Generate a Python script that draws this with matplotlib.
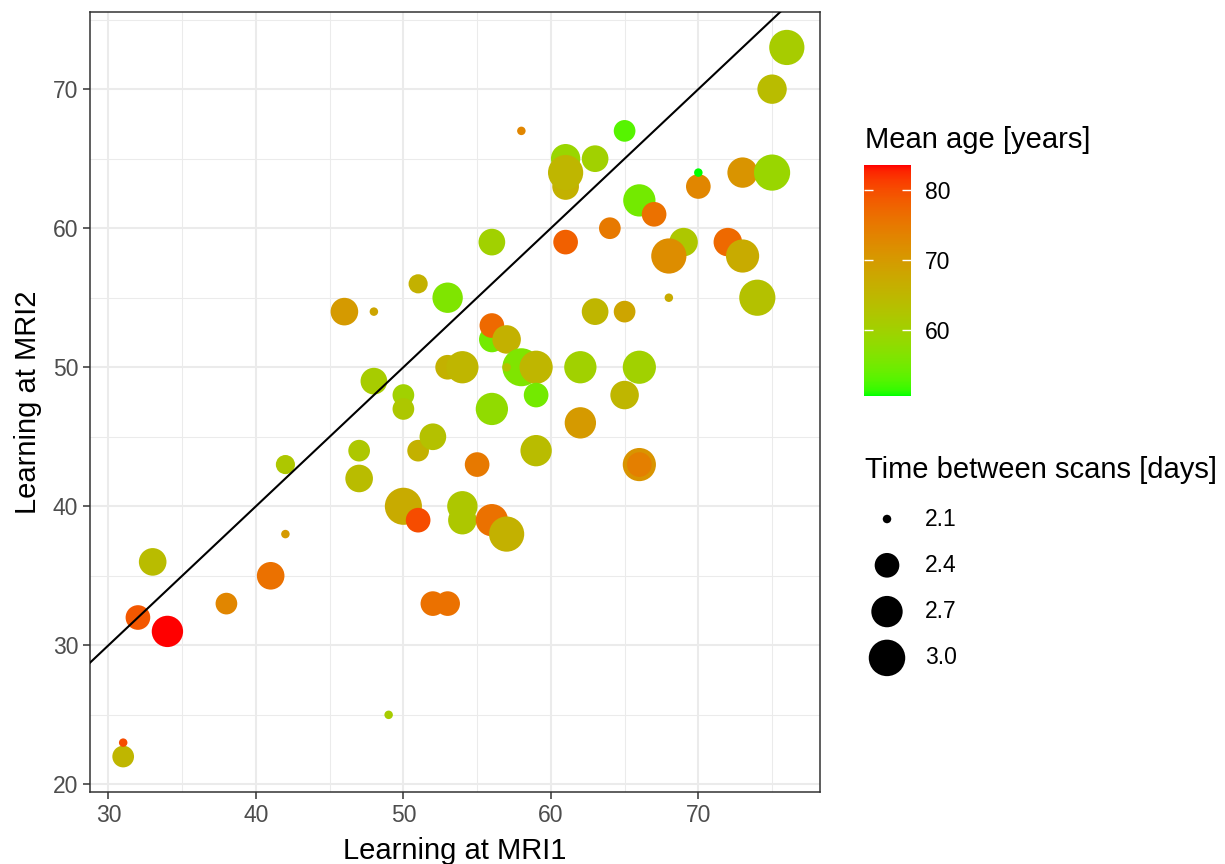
import numpy as np
import matplotlib
matplotlib.use('Agg')
import matplotlib.pyplot as plt
from matplotlib.colors import ListedColormap, Normalize

plt.rcParams['font.family'] = ['Liberation Sans', 'DejaVu Sans']

# learning scores at the two scans, mean age and days between scans
mri1 = [31, 31, 32, 33, 34, 38, 41, 42, 42, 46,
        48, 48, 47, 47, 49, 50, 50, 50, 51, 51,
        51, 52, 52, 53, 53, 53, 54, 54, 54, 55,
        56, 56, 56, 56, 56, 57, 57, 58, 58, 59,
        57, 59, 59, 61, 61, 61, 61, 62, 62, 63,
        63, 64, 65, 65, 65, 66, 66, 66, 66, 67,
        69, 68, 68, 70, 70, 72, 73, 73, 74, 75,
        75, 76]
mri2 = [22, 23, 32, 36, 31, 33, 35, 38, 43, 54,
        54, 49, 44, 42, 25, 48, 47, 40, 56, 44,
        39, 45, 33, 33, 55, 50, 50, 39, 40, 43,
        59, 52, 53, 47, 39, 52, 38, 67, 50, 50,
        50, 48, 44, 65, 63, 64, 59, 50, 46, 65,
        54, 60, 67, 54, 48, 62, 50, 43, 43, 61,
        59, 58, 55, 63, 64, 59, 58, 64, 55, 70,
        64, 73]
age = [65, 80, 79, 64, 83.5, 73, 76, 70, 62, 70,
       68, 61, 62, 64, 61, 60, 62, 67, 66, 66,
       80, 63, 76, 76, 56, 66, 65, 62, 62, 75,
       60, 55, 77, 58, 76, 66, 66, 73, 56, 65,
       63, 55, 64, 59, 66, 65, 78, 60, 70, 60,
       65, 75, 53, 68, 65, 55, 60, 71, 74, 76,
       62, 72, 67, 73, 50.6, 77, 67, 71, 63, 64,
       59, 61]
days = [2.30, 2.10, 2.40, 2.52, 2.70, 2.30, 2.52, 2.10, 2.23, 2.52,
        2.10, 2.48, 2.30, 2.52, 2.10, 2.30, 2.30, 3.04, 2.23, 2.30,
        2.40, 2.48, 2.40, 2.40, 2.65, 2.40, 2.75, 2.56, 2.65, 2.40,
        2.48, 2.44, 2.40, 2.75, 2.75, 2.56, 2.92, 2.10, 3.10, 2.80,
        2.10, 2.40, 2.70, 2.60, 2.48, 2.92, 2.40, 2.75, 2.70, 2.48,
        2.48, 2.30, 2.30, 2.30, 2.56, 2.75, 2.80, 2.80, 2.40, 2.40,
        2.56, 2.92, 2.10, 2.40, 2.10, 2.56, 2.80, 2.65, 2.98, 2.60,
        2.98, 2.92]

size_breaks = [2.1, 2.4, 2.7, 3.0]
age_ticks = [60, 70, 80]


# ggplot style gradient green -> red, interpolated in Lab space
def to_lab(rgb):
    c = np.asarray(rgb, float)
    c = np.where(c <= 0.04045, c / 12.92, ((c + 0.055) / 1.055) ** 2.4)
    m = np.array([[0.4124, 0.3576, 0.1805],
                  [0.2126, 0.7152, 0.0722],
                  [0.0193, 0.1192, 0.9505]])
    xyz = m @ c / np.array([0.95047, 1.0, 1.08883])
    f = np.where(xyz > 0.008856, np.cbrt(xyz), 7.787 * xyz + 16 / 116)
    return np.array([116 * f[1] - 16, 500 * (f[0] - f[1]), 200 * (f[1] - f[2])])


def from_lab(lab):
    L, a, b = lab
    fy = (L + 16) / 116
    f = np.array([fy + a / 500, fy, fy - b / 200])
    xyz = np.where(f ** 3 > 0.008856, f ** 3, (f - 16 / 116) / 7.787)
    xyz = xyz * np.array([0.95047, 1.0, 1.08883])
    m = np.array([[3.2406, -1.5372, -0.4986],
                  [-0.9689, 1.8758, 0.0415],
                  [0.0557, -0.2040, 1.0570]])
    c = m @ xyz
    c = np.where(c <= 0.0031308, 12.92 * c, 1.055 * np.clip(c, 0, None) ** (1 / 2.4) - 0.055)
    return np.clip(c, 0, 1)


lo, hi = to_lab([0, 1, 0]), to_lab([1, 0, 0])
cmap = ListedColormap([from_lab(lo + (hi - lo) * t) for t in np.linspace(0, 1, 256)])
norm = Normalize(min(age), max(age))

# area-proportional size scale (diameter in px)
dmin, dmax = 8.5, 38.0
tmin, tmax = min(days), max(days)


def diam(t):
    return dmin + (dmax - dmin) * np.sqrt((np.asarray(t) - tmin) / (tmax - tmin))


def area(t):
    return (diam(t) * 72 / 100) ** 2


fig = plt.figure(figsize=(12.25, 8.64), dpi=100)
ax = fig.add_axes([90 / 1225, 72 / 864, 730 / 1225, 780 / 864])

xr = max(mri1) - min(mri1)
yr = max(mri2) - min(mri2)
ax.set_xlim(min(mri1) - 0.05 * xr, max(mri1) + 0.05 * xr)
ax.set_ylim(min(mri2) - 0.05 * yr, max(mri2) + 0.05 * yr)

ax.set_xticks(range(30, 80, 10))
ax.set_xticks(range(35, 80, 10), minor=True)
ax.set_yticks(range(20, 80, 10))
ax.set_yticks(range(25, 80, 10), minor=True)
ax.grid(which='major', color='#EBEBEB', lw=1.5)
ax.grid(which='minor', color='#EBEBEB', lw=0.75)
ax.set_axisbelow(True)
ax.tick_params(which='major', length=5, width=1.1, color='#333333',
               labelsize=16.5, labelcolor='#4D4D4D', pad=3.5)
ax.tick_params(which='minor', length=0)
for sp in ax.spines.values():
    sp.set_color('#333333')
    sp.set_linewidth(1.1)

ax.scatter(mri1, mri2, s=area(days), c=age, cmap=cmap, norm=norm,
           edgecolors='none', zorder=2)
ax.axline((30, 30), slope=1, color='black', lw=1.5, zorder=3)

ax.set_xlabel('Learning at MRI1', fontsize=21, labelpad=7.5)
ax.set_ylabel('Learning at MRI2', fontsize=21, labelpad=8)

# colour bar
cax = fig.add_axes([864 / 1225, 1 - 396 / 864, 47 / 1225, 231 / 864])
cb = fig.colorbar(plt.cm.ScalarMappable(norm=norm, cmap=cmap), cax=cax)
cb.outline.set_visible(False)
cb.set_ticks(age_ticks)
cax.tick_params(axis='y', direction='in', left=True, right=True, length=6.5,
                width=1, color='#FFFFFF', labelsize=16.5, pad=10)
fig.text(865 / 1225, 1 - 140 / 864, 'Mean age [years]', fontsize=21,
         va='center', ha='left')

# size legend, drawn in a pixel-unit overlay
lax = fig.add_axes([858 / 1225, 1 - 690 / 864, 360 / 1225, 250 / 864])
lax.set_xlim(0, 360)
lax.set_ylim(250, 0)
lax.axis('off')
lax.text(7, 30, 'Time between scans [days]', fontsize=21, va='center', ha='left')
key_y = 79 + 46.3 * np.arange(len(size_breaks))
lax.scatter([29] * len(size_breaks), key_y, s=area(size_breaks), color='black',
            edgecolors='none', clip_on=False)
for b, yy in zip(size_breaks, key_y):
    lax.text(67, yy, f'{b:.1f}', fontsize=16.5, va='center', ha='left')

fig.savefig('out.png', dpi=100)
